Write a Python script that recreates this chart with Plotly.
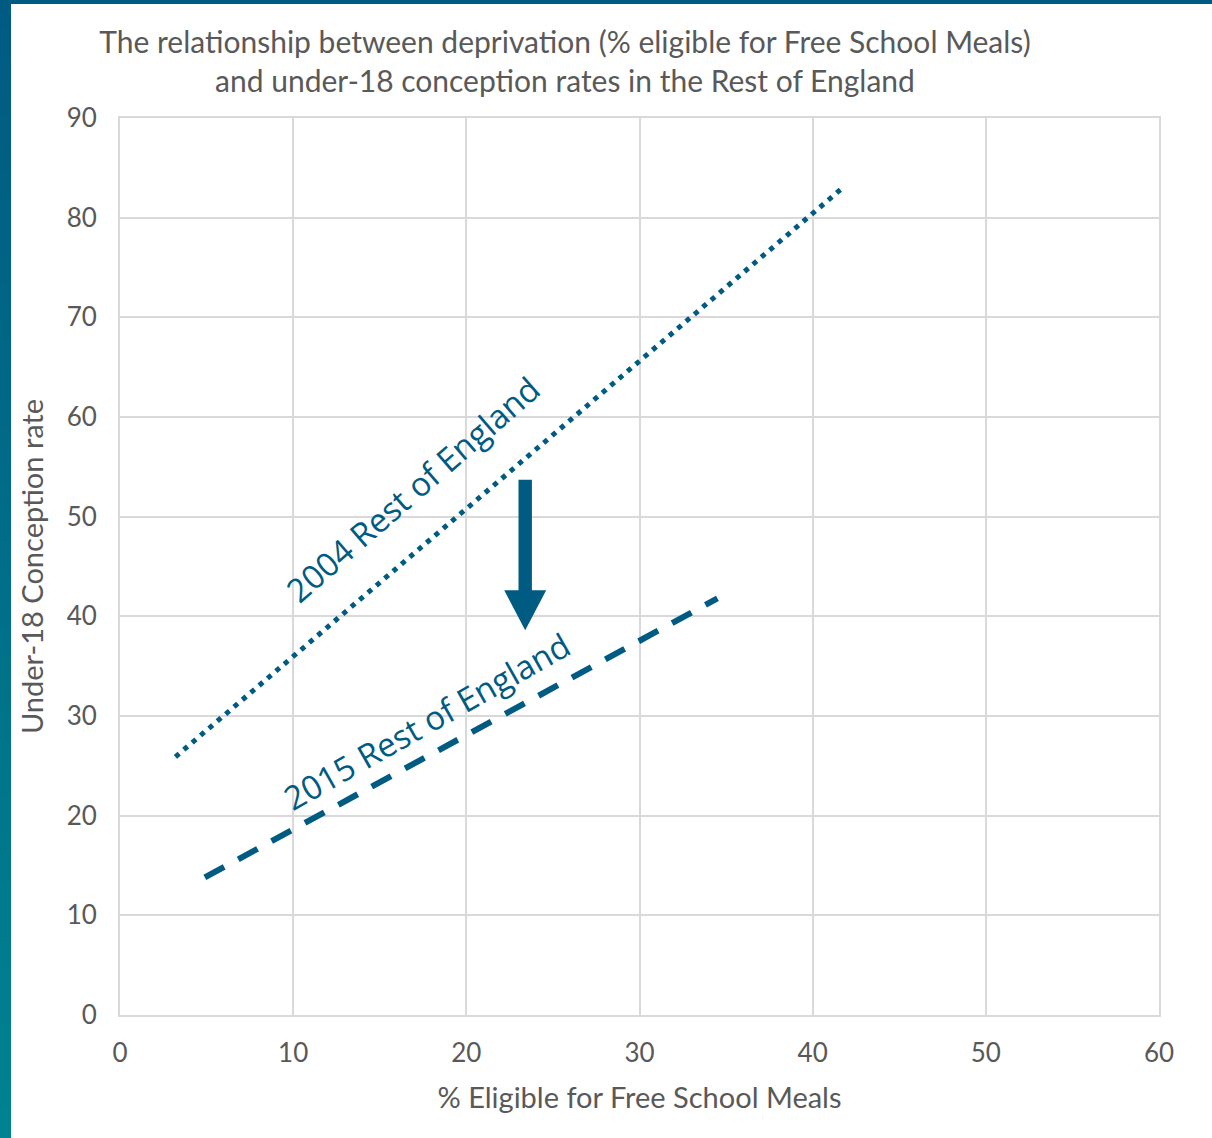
import plotly.graph_objects as go

# ---- data ----
fsm_2004 = [3.2, 41.6]
rate_2004 = [25.9, 82.8]
fsm_2015 = [4.9, 34.5]
rate_2015 = [13.8, 41.8]

x_ticks = [0, 10, 20, 30, 40, 50, 60]
y_ticks = [0, 10, 20, 30, 40, 50, 60, 70, 80, 90]

label_2004 = "2004 Rest of England"
label_2015 = "2015 Rest of England"
title_text = ("The relationship between deprivation (% eligible for Free School Meals)"
              "<br>and under-18 conception rates in the Rest of England")

arrow_x = 23.4
arrow_top = 53.7
arrow_tip = 38.6

BLUE = "#005b82"
GREY = "#595959"
GRID = "#d9d9d9"
FONT = "Lato"

fig = go.Figure()
fig.add_trace(go.Scatter(x=fsm_2004, y=rate_2004, mode="lines",
                         line=dict(color=BLUE, width=5, dash="5px,6px"),
                         showlegend=False, hoverinfo="skip"))
fig.add_trace(go.Scatter(x=fsm_2015, y=rate_2015, mode="lines",
                         line=dict(color=BLUE, width=6, dash="22px,16px"),
                         showlegend=False, hoverinfo="skip"))

# arrow shape (shaft + head), sizes converted from pixels
W, H = 1212, 1138
L, R, T, B = 120, 53, 118, 123
px_x = 60 / (W - L - R)
px_y = 90 / (H - T - B)
shaft_hw = 6.7 * px_x
head_hw = 21 * px_x
head_h = 40 * px_y
hb = arrow_tip + head_h
path = (f"M {arrow_x-shaft_hw},{arrow_top} L {arrow_x+shaft_hw},{arrow_top} "
        f"L {arrow_x+shaft_hw},{hb} L {arrow_x+head_hw},{hb} L {arrow_x},{arrow_tip} "
        f"L {arrow_x-head_hw},{hb} L {arrow_x-shaft_hw},{hb} Z")
shapes = [dict(type="path", path=path, xref="x", yref="y",
               fillcolor=BLUE, line=dict(width=0))]

# decorative frame: top bar and left gradient bar
pw = W - L - R
ph = H - T - B
def px2paper_x(px):
    return (px - L) / pw
def px2paper_y(py):
    return 1 - (py - T) / ph
shapes.append(dict(type="rect", xref="paper", yref="paper",
                   x0=px2paper_x(0), x1=px2paper_x(W), y0=px2paper_y(4), y1=px2paper_y(0),
                   fillcolor=BLUE, line=dict(width=0), layer="above"))
c0 = (0x00, 0x5b, 0x82)
c1 = (0x00, 0x82, 0x90)
n = 40
for i in range(n):
    t = i / (n - 1)
    col = "rgb(%d,%d,%d)" % tuple(round(a + (b - a) * t) for a, b in zip(c0, c1))
    y0 = H * i / n
    y1 = H * (i + 1) / n + 1
    shapes.append(dict(type="rect", xref="paper", yref="paper",
                       x0=px2paper_x(0), x1=px2paper_x(11),
                       y0=px2paper_y(y1), y1=px2paper_y(y0),
                       fillcolor=col, line=dict(width=0), layer="above"))

annotations = [
    dict(x=16.9, y=52.7, xref="x", yref="y", text=label_2004, showarrow=False,
         textangle=-41, font=dict(family="Open Sans", size=33, color=BLUE)),
    dict(x=17.7, y=29.4, xref="x", yref="y", text=label_2015, showarrow=False,
         textangle=-29.5, font=dict(family="Open Sans", size=33, color=BLUE)),
]

fig.update_layout(
    width=W, height=H,
    margin=dict(l=L, r=R, t=T, b=B),
    paper_bgcolor="white", plot_bgcolor="white",
    font=dict(family=FONT, color=GREY, size=26),
    title=dict(text=title_text, x=565 / W, xanchor="center",
               y=1 - 53 / H, yanchor="middle", yref="container",
               font=dict(family=FONT, size=30, color=GREY)),
    xaxis=dict(range=[0, 60], tickvals=x_ticks, showgrid=True, gridcolor=GRID, gridwidth=2,
               showline=True, linecolor=GRID, linewidth=2, mirror=True, zeroline=False,
               ticks="", ticklabelstandoff=14,
               title=dict(text="% Eligible for Free School Meals", standoff=20,
                          font=dict(size=29, color=GREY))),
    yaxis=dict(range=[0, 90], tickvals=y_ticks, showgrid=True, gridcolor=GRID, gridwidth=2,
               showline=True, linecolor=GRID, linewidth=2, mirror=True, zeroline=False,
               ticks="", ticklabelstandoff=16,
               title=dict(text="Under-18 Conception rate", standoff=14,
                          font=dict(size=29, color=GREY))),
    shapes=shapes,
    annotations=annotations,
)

fig.write_html("out.html", config={"displayModeBar": False},
               post_script="document.body.style.margin='0';")
